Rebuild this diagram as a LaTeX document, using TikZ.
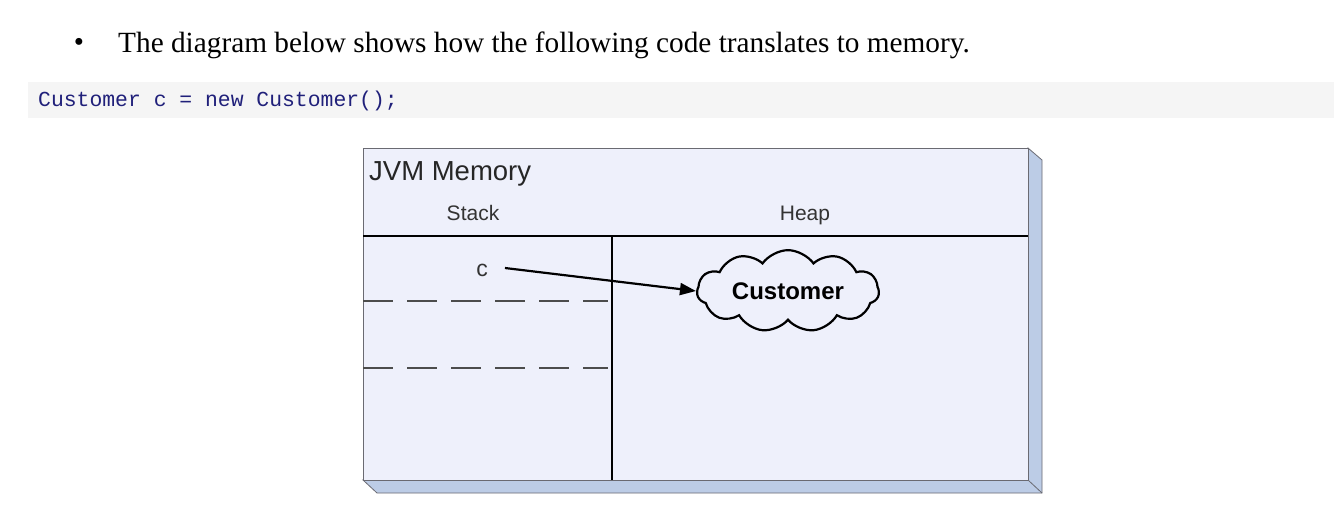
\documentclass[tikz,border=0pt]{standalone}
\usepackage{fontspec}
\setmainfont{Liberation Serif}
\newfontfamily\arialf{Liberation Sans}
\newfontfamily\monof{Liberation Mono}
\usetikzlibrary{shapes.symbols,arrows.meta}
\definecolor{faceC}{HTML}{EEF0FB}
\definecolor{sideC}{HTML}{BCCCE6}
\definecolor{edgeC}{HTML}{6A6A72}
\definecolor{codeBg}{HTML}{F5F5F5}
\definecolor{codeFg}{HTML}{20207A}
\definecolor{labC}{HTML}{333333}
\tikzset{
  lab/.style={font=\arialf\fontsize{21}{24}\selectfont, text=labC, inner sep=0pt},
  divider/.style={line width=2.2pt, black},
  slot/.style={line width=2pt, color=black!70, dash pattern=on 30pt off 14pt},
}
\begin{document}
\begin{tikzpicture}[x=1pt,y=-1pt]
\useasboundingbox (0,0) rectangle (1334,525);
\fill[white] (0,0) rectangle (1334,525);
% heading
\node[anchor=center, inner sep=0pt] (bullet) at (79,45) {\fontsize{29}{32}\selectfont\textbullet};
\node[anchor=west, inner sep=0pt, font=\fontsize{29.3}{32}\selectfont] (heading) at (118,45) {The diagram below shows how the following code translates to memory.};
% code band
\fill[codeBg] (28,82) rectangle (1334,118);
\node[anchor=west, inner sep=0pt, text=codeFg, font=\monof\fontsize{21.4}{24}\selectfont] (code) at (38,101) {Customer c = new Customer();};
% 3D box
\fill[sideC, draw=edgeC, line width=0.8pt] (1028,148) -- (1042,160) -- (1042,493) -- (377,493) -- (363,480) -- (1028,480) -- cycle;
\draw[edgeC, line width=0.8pt] (1028,480) -- (1042,493);
\fill[faceC, draw=edgeC, line width=1pt] (363,148) rectangle (1028,480);
% dividers
\draw[divider] (363,236) -- (1028,236);
\draw[divider] (612,236) -- (612,480);
\draw[slot] (363,301) -- (608,301);
\draw[slot] (363,368) -- (608,368);
% labels
\node[anchor=base west, inner sep=0pt, font=\arialf\fontsize{27.5}{30}\selectfont, text=black!85] (title) at (369,180) {JVM Memory};
\node[lab, anchor=base] (stack) at (473,220) {Stack};
\node[lab, anchor=base] (heap) at (805,220) {Heap};
\node[lab, font=\arialf\fontsize{23}{26}\selectfont] (c) at (482,270) {c};
\node[cloud, cloud puffs=11, cloud puff arc=110, aspect=2.6, draw=black, line width=2.2pt, inner sep=0pt, minimum width=182pt, minimum height=72pt, font=\arialf\bfseries\fontsize{24}{27}\selectfont] (cust) at (788,291) {Customer};
\draw[line width=2.2pt, -{Triangle[length=16pt,width=12pt]}] (c.east) ++(17,-2) coordinate (cs) (cs) -- (cust.west);
\end{tikzpicture}
\end{document}
